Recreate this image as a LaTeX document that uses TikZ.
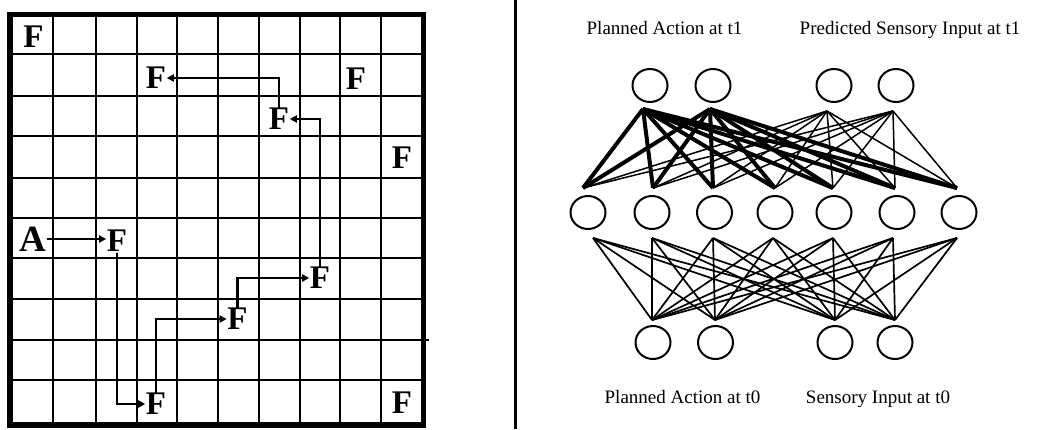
\documentclass[tikz,border=0pt]{standalone}
\usepackage{fontspec}
\setmainfont{Liberation Serif}
\usetikzlibrary{arrows.meta,shapes.geometric}
\begin{document}
\begin{tikzpicture}[x=1bp,y=-1bp,
  gridline/.style={line width=2.6bp},
  gridborder/.style={line width=5.5bp},
  letter/.style={font=\fontsize{33bp}{33bp}\selectfont\bfseries, inner sep=0.5bp},
  agent/.style={font=\fontsize{37bp}{37bp}\selectfont\bfseries, inner sep=0.5bp},
  moveline/.style={line width=2.2bp, -{Triangle[length=7bp,width=7bp]}},
  unit/.style={draw, ellipse, line width=2bp, minimum width=35bp, minimum height=33bp, inner sep=0pt},
  lab/.style={font=\fontsize{19bp}{22bp}\selectfont, anchor=base, inner sep=0pt},
  strong/.style={line width=4bp},
  weak/.style={line width=1.5bp},
  lowerlink/.style={line width=1.7bp},
  divider/.style={line width=3bp}
]
\fill[white] (0,0) rectangle (1049,429);
\useasboundingbox (0,0) rectangle (1049,429);

% ---------- grid world ----------
\foreach \x in {53,96,137,177,218,259,300,340,381}
  \draw[gridline] (\x,14.5) -- (\x,425);
\foreach \y in {54,96,136,178,218,258,299,380}
  \draw[gridline] (10,\y) -- (423.5,\y);
\draw[gridline] (10,340) -- (429,340);
\draw[gridborder] (10,14.5) rectangle (423.5,425);

\node[letter] (F00) at (33.5,37) {F};
\node[letter] (F31) at (156,78) {F};
\node[letter] (F81) at (356,79) {F};
\node[letter] (F62) at (279,119) {F};
\node[letter] (F93) at (402,158) {F};
\node[agent]  (A05) at (33,239) {A};
\node[letter] (F25) at (117,241) {F};
\node[letter] (F76) at (320,278) {F};
\node[letter] (F57) at (237.5,319) {F};
\node[letter] (F39) at (156,404) {F};
\node[letter] (F99) at (402,403) {F};

\draw[moveline] (A05.east) -- (A05.east -| F25.west);
\draw[moveline] (F25.south) |- (F39.west);
\draw[moveline] (F39.north) |- (F57.west);
\draw[moveline] (F57.north) |- (F76.west);
\draw[moveline] (F76.north) |- (F62.east);
\draw[moveline] (F62.north) |- (F31.east);

% ---------- divider ----------
\coordinate (dtop) at (515,0);
\coordinate (dbot) at (515,429);
\draw[divider] (dtop) -- (dbot);

% ---------- network ----------
\node[lab] (L1) at (664.5,34.5) {Planned Action at t1};
\node[lab] (L2) at (910,34.5) {Predicted Sensory Input at t1};
\node[lab] (L3) at (682.5,403) {Planned Action at t0};
\node[lab] (L4) at (878,403) {Sensory Input at t0};

\node[unit] (T1) at (650,85.5) {};
\node[unit] (T2) at (713,85.5) {};
\node[unit] (T3) at (834,85.5) {};
\node[unit] (T4) at (896,85.5) {};

\node[unit] (H1) at (588,212.5) {};
\node[unit] (H2) at (652,212.5) {};
\node[unit] (H3) at (714.5,212.5) {};
\node[unit] (H4) at (775,212.5) {};
\node[unit] (H5) at (834,212.5) {};
\node[unit] (H6) at (897,212.5) {};
\node[unit] (H7) at (959,212.5) {};

\node[unit] (B1) at (653,342.5) {};
\node[unit] (B2) at (715.5,342.5) {};
\node[unit] (B3) at (835,342.5) {};
\node[unit] (B4) at (895,342.5) {};

% ports (connection points just off the units)
\coordinate (tp1) at (643,109);
\coordinate (tp2) at (710,109);
\coordinate (tp3) at (827,111);
\coordinate (tp4) at (893,111);

\coordinate (hu1) at (583,188);
\coordinate (hu2) at (653,188);
\coordinate (hu3) at (713,188);
\coordinate (hu4) at (775,188);
\coordinate (hu5) at (833,188);
\coordinate (hu6) at (895,188);
\coordinate (hu7) at (957,188);

\coordinate (hd1) at (593,238);
\coordinate (hd2) at (652,238);
\coordinate (hd3) at (713,238);
\coordinate (hd4) at (773,238);
\coordinate (hd5) at (833,238);
\coordinate (hd6) at (893,238);
\coordinate (hd7) at (957,238);

\coordinate (bu1) at (652,320);
\coordinate (bu2) at (715,320);
\coordinate (bu3) at (835,320);
\coordinate (bu4) at (895,320);

\foreach \t in {3,4}
  \foreach \h in {1,...,7}
    \draw[weak] (tp\t) -- (hu\h);
\foreach \t in {1,2}
  \foreach \h in {1,...,7}
    \draw[strong] (tp\t) -- (hu\h);
\foreach \h in {1,...,7}
  \foreach \b in {1,...,4}
    \draw[lowerlink] (hd\h) -- (bu\b);
\end{tikzpicture}
\end{document}
